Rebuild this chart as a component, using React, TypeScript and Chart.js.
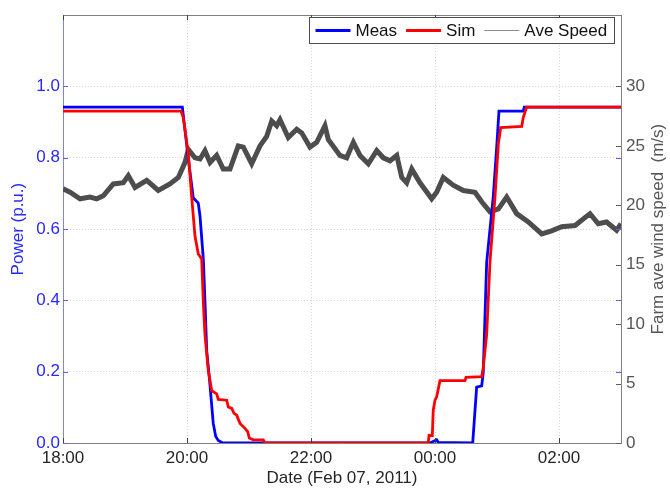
import { useEffect, useRef } from "react";
import { Chart, registerables } from "chart.js";

Chart.register(...registerables);

// ---- axis ticks ----
const xTickValues = [0, 120, 240, 360, 480]; // minutes after 18:00
const xTickLabels = ["18:00", "20:00", "22:00", "00:00", "02:00"];
const powerTicks = [0, 0.2, 0.4, 0.6, 0.8, 1.0];
const speedTicks = [0, 5, 10, 15, 20, 25, 30];

// ---- Measured power (p.u.) ----
const measTime = [0, 115.5, 120.7, 126.1, 130.9, 132.6, 135.8, 137.4, 139.1, 141.6, 143.9, 145.4, 147.8, 150.3, 154.5, 355.2, 361.6, 363, 379.4, 396.5, 400.3, 405.2, 406.7, 410, 416.4, 419.7, 421.9, 445.4, 446.4, 540];
const measPower = [0.942, 0.942, 0.811, 0.687, 0.673, 0.636, 0.516, 0.396, 0.258, 0.184, 0.106, 0.055, 0.018, 0.007, 0, 0, 0.009, 0.002, 0.001, 0, 0.157, 0.16, 0.198, 0.507, 0.692, 0.83, 0.931, 0.931, 0.942, 0.942];

// ---- Simulated power (p.u.) ----
const simTime = [0, 114.2, 116.4, 121.3, 124.5, 127.7, 130.9, 134.2, 135.8, 136.7, 137.4, 140.6, 143.9, 148.7, 150.3, 158.4, 160, 163.3, 165.5, 168.1, 171.3, 176.1, 178.7, 180.3, 184.2, 193.8, 195.5, 353.5, 354.2, 357.4, 358.3, 360, 361.6, 364.8, 389, 390, 405.2, 406.7, 410, 413.2, 418.1, 421.3, 423.6, 443.9, 445.4, 448.7, 540];
const simPower = [0.931, 0.931, 0.913, 0.811, 0.692, 0.581, 0.53, 0.516, 0.396, 0.341, 0.304, 0.203, 0.147, 0.138, 0.122, 0.12, 0.101, 0.097, 0.083, 0.078, 0.055, 0.041, 0.032, 0.014, 0.009, 0.009, 0, 0, 0.021, 0.021, 0.092, 0.12, 0.129, 0.175, 0.175, 0.184, 0.186, 0.212, 0.304, 0.507, 0.692, 0.839, 0.885, 0.888, 0.913, 0.942, 0.942];

// ---- Farm average wind speed (m/s) ----
const speedTime = [0, 6.8, 16.5, 26.1, 32.6, 39, 48.7, 58.4, 63.2, 69.7, 81, 92.2, 103.5, 111.6, 118, 121.3, 127.7, 132.6, 137.4, 142.3, 148.7, 155.1, 161.6, 169.6, 174.5, 182.6, 190.6, 197.1, 202, 206.8, 210, 218, 226.2, 231, 239, 245.5, 253.5, 256.7, 268, 274.5, 281, 287.4, 295.5, 303.6, 310, 316.5, 323, 327.8, 332.6, 337.5, 345.5, 356.8, 361.6, 368, 377.7, 387.4, 398.7, 405.2, 413.2, 421.3, 429.4, 439, 450.3, 463.3, 472.9, 482.6, 495.5, 510, 518, 526, 535.8, 540];
const speedValue = [21.4, 21.1, 20.55, 20.7, 20.55, 20.8, 21.8, 21.9, 22.5, 21.5, 22.1, 21.25, 21.8, 22.35, 23.6, 24.7, 24.0, 23.9, 24.6, 23.6, 24.2, 23.05, 23.05, 25.0, 24.9, 23.5, 25.0, 25.8, 27.1, 26.7, 27.2, 25.7, 26.4, 26.1, 24.9, 25.3, 26.7, 25.55, 24.2, 24.0, 25.3, 24.2, 23.5, 24.6, 24.0, 23.75, 24.2, 22.35, 21.9, 23.05, 21.9, 20.55, 21.1, 22.35, 21.7, 21.25, 21.1, 20.3, 19.45, 19.7, 20.7, 19.3, 18.6, 17.6, 17.85, 18.2, 18.3, 19.3, 18.45, 18.6, 17.9, 18.45];

const legendItems = [
  { label: "Meas", color: "#0000ff", width: 2.8 },
  { label: "Sim", color: "#ff0000", width: 2.8 },
  { label: "Ave Speed", color: "#8c8c8c", width: 1 },
];
const rightTitle = "Farm ave wind speed  (m/s)";

const FONT = "Arial, 'Liberation Sans', Helvetica, sans-serif";
const BLUE = "rgb(40,40,255)";
const GRAY = "#555555";

const framePlugin = {
  id: "frame",
  afterDraw(chart: any) {
    const { ctx, chartArea: a, scales } = chart;
    const xs = scales.x, ys = scales.y, ys2 = scales.y2;
    const line = (x1: number, y1: number, x2: number, y2: number) => {
      ctx.beginPath();
      ctx.moveTo(x1, y1);
      ctx.lineTo(x2, y2);
      ctx.stroke();
    };
    ctx.save();
    ctx.setLineDash([]);
    ctx.lineWidth = 1;
    // top border
    ctx.strokeStyle = "#7f7f7f";
    line(a.left, Math.round(a.top) + 0.5, a.right, Math.round(a.top) + 0.5);
    // x tick marks (inward, top and bottom)
    ctx.strokeStyle = "#404040";
    xTickValues.forEach((v) => {
      const px = Math.round(xs.getPixelForValue(v)) + 0.5;
      line(px, a.bottom, px, a.bottom - 5);
      line(px, a.top, px, a.top + 5);
    });
    // power ticks (blue) on both sides
    ctx.strokeStyle = "#6060ff";
    powerTicks.forEach((v) => {
      const py = Math.round(ys.getPixelForValue(v)) + 0.5;
      line(a.left, py, a.left + 5, py);
      line(a.right, py, a.right - 5, py);
    });
    // speed ticks (gray) on right side
    ctx.strokeStyle = "#606060";
    speedTicks.forEach((v) => {
      const py = Math.round(ys2.getPixelForValue(v)) + 0.5;
      line(a.right, py, a.right - 5, py);
    });

    // right axis title (reads bottom to top)
    ctx.font = `17px ${FONT}`;
    ctx.fillStyle = GRAY;
    ctx.textAlign = "center";
    ctx.textBaseline = "middle";
    ctx.save();
    ctx.translate(658, (a.top + a.bottom) / 2);
    ctx.rotate(-Math.PI / 2);
    ctx.fillText(rightTitle, 0, 0);
    ctx.restore();

    // legend
    const lineLen = 35, gapLT = 5, gapItem = 9, padL = 6, padR = 8;
    const widths = legendItems.map((it) => ctx.measureText(it.label).width);
    let total = padL + padR;
    widths.forEach((w, i) => {
      total += lineLen + gapLT + w + (i < widths.length - 1 ? gapItem : 0);
    });
    const boxRight = 614.5;
    const boxTop = 17.5;
    const boxH = 26;
    const boxLeft = Math.round(boxRight - total) + 0.5;
    ctx.fillStyle = "#ffffff";
    ctx.fillRect(boxLeft, boxTop, boxRight - boxLeft, boxH);
    ctx.strokeStyle = "#4d4d4d";
    ctx.lineWidth = 1;
    ctx.strokeRect(boxLeft, boxTop, boxRight - boxLeft, boxH);
    let cx = boxLeft + padL;
    const cy = boxTop + boxH / 2;
    ctx.textAlign = "left";
    legendItems.forEach((it, i) => {
      ctx.strokeStyle = it.color;
      ctx.lineWidth = it.width;
      line(cx, cy, cx + lineLen, cy);
      cx += lineLen + gapLT;
      ctx.fillStyle = "#111111";
      ctx.fillText(it.label, cx, cy + 1);
      cx += widths[i] + gapItem;
    });
    ctx.restore();
  },
};

export default function App() {
  const ref = useRef<HTMLCanvasElement | null>(null);

  useEffect(() => {
    if (!ref.current) return;
    Chart.defaults.font.family = FONT;
    const chart = new Chart(ref.current, {
      type: "line",
      data: {
        datasets: [
          {
            label: "Sim",
            data: simTime.map((t, i) => ({ x: t, y: simPower[i] })),
            borderColor: "#ff0000",
            borderWidth: 2.8,
            pointRadius: 0,
            tension: 0,
            yAxisID: "y",
          },
          {
            label: "Meas",
            data: measTime.map((t, i) => ({ x: t, y: measPower[i] })),
            borderColor: "#0000ff",
            borderWidth: 2.8,
            pointRadius: 0,
            tension: 0,
            yAxisID: "y",
          },
          {
            label: "Ave Speed",
            data: speedTime.map((t, i) => ({ x: t, y: speedValue[i] })),
            borderColor: "#4d4d4d",
            borderWidth: 5,
            pointRadius: 0,
            tension: 0,
            yAxisID: "y2",
          },
        ],
      },
      options: {
        responsive: false,
        animation: false,
        events: [],
        layout: { padding: { top: 11, left: 0, right: 0, bottom: 0 } },
        plugins: {
          legend: { display: false },
          tooltip: { enabled: false },
          title: { display: false },
        },
        scales: {
          x: {
            type: "linear",
            position: "bottom",
            min: 0,
            max: 540,
            afterBuildTicks: (s: any) => {
              s.ticks = xTickValues.map((v) => ({ value: v }));
            },
            afterFit: (s: any) => {
              s.height = 48;
            },
            ticks: {
              autoSkip: false,
              maxRotation: 0,
              padding: 5,
              color: "#262626",
              font: { size: 17 },
              callback: (v: any) => xTickLabels[xTickValues.indexOf(Number(v))],
            },
            grid: { drawTicks: false, color: "#d2d2d2", lineWidth: 1 },
            border: { color: "#808080", dash: [1, 2] },
            title: {
              display: true,
              text: "Date (Feb 07, 2011)",
              color: "#262626",
              font: { size: 17 },
              padding: { top: 0, bottom: 2 },
            },
          },
          y: {
            type: "linear",
            position: "left",
            min: 0,
            max: 1.2,
            afterBuildTicks: (s: any) => {
              s.ticks = powerTicks.map((v) => ({ value: v }));
            },
            afterFit: (s: any) => {
              s.width = 63;
            },
            ticks: {
              padding: 3,
              color: BLUE,
              font: { size: 17 },
              callback: (v: any) => Number(v).toFixed(1),
            },
            grid: { drawTicks: false, color: "#d4d4f6", lineWidth: 1 },
            border: { color: "#8080ff", dash: [1, 2] },
            title: {
              display: true,
              text: "Power (p.u.)",
              color: BLUE,
              font: { size: 17 },
              padding: { top: 8, bottom: 0 },
            },
          },
          y2: {
            type: "linear",
            position: "right",
            min: 0,
            max: 36,
            afterBuildTicks: (s: any) => {
              s.ticks = speedTicks.map((v) => ({ value: v }));
            },
            afterFit: (s: any) => {
              s.width = 49;
            },
            ticks: {
              padding: 5,
              color: GRAY,
              font: { size: 17 },
              callback: (v: any) => String(v),
            },
            grid: { drawTicks: false, drawOnChartArea: false },
            border: { color: "#808080" },
          },
        },
      },
      plugins: [framePlugin],
    });
    return () => chart.destroy();
  }, []);

  return (
    <div style={{ position: "absolute", left: 0, top: 0, width: 670, height: 491, background: "#fff" }}>
      <canvas ref={ref} width={670} height={491} style={{ display: "block" }} />
    </div>
  );
}
